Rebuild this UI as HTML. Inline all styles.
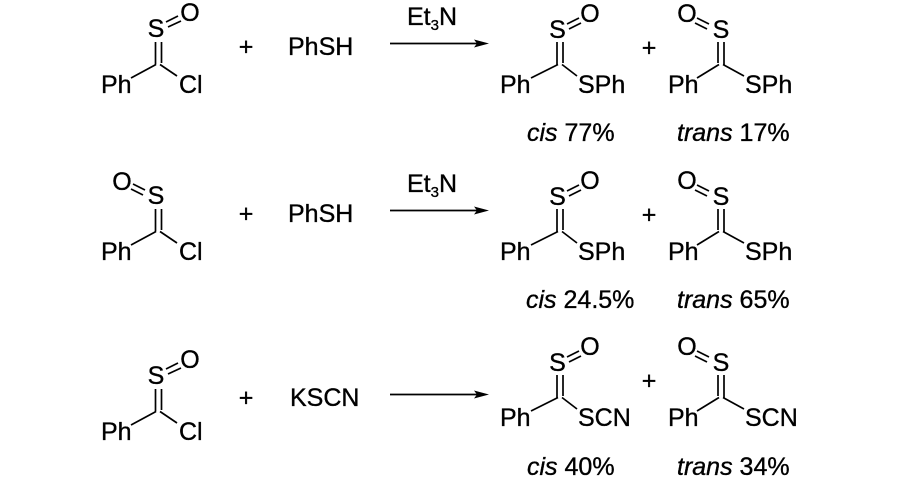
<!DOCTYPE html>
<html>
<head>
<meta charset="utf-8">
<style>
  html,body{margin:0;padding:0;background:#fff;}
  svg{display:block;}
  text{font-family:"Liberation Sans", Arial, sans-serif;font-size:25px;fill:#000;stroke:#000;stroke-width:0.35px;}
  .it{font-style:italic;}
  line{stroke:#000;stroke-width:1.7;stroke-linecap:butt;}
</style>
</head>
<body>
<svg width="900" height="480" viewBox="0 0 900 480" xmlns="http://www.w3.org/2000/svg">

  <!-- ================= ROW 1 ================= -->
  <g>
    <line x1="155.5" y1="42" x2="155.5" y2="64.5"/>
    <line x1="161.5" y1="42" x2="161.5" y2="63"/>
    <line x1="156" y1="64.5" x2="131" y2="78"/>
    <line x1="160" y1="64.5" x2="177" y2="76"/>
    <line x1="166" y1="22" x2="178" y2="16"/>
    <line x1="168" y1="27" x2="181" y2="21"/>
    <text x="156" y="37" text-anchor="middle">S</text>
    <text x="190" y="21" text-anchor="middle">O</text>
    <text x="101" y="93">Ph</text>
    <text x="179" y="93">Cl</text>
  </g>

  <text x="246" y="55" text-anchor="middle">+</text>
  <text x="288" y="55">PhSH</text>
  <text x="407" y="25">Et<tspan font-size="15" dy="5">3</tspan><tspan dy="-5">N</tspan></text>
  <line x1="390" y1="43.5" x2="478" y2="43.5"/>
  <polygon points="489,43.5 474,39.5 477,43.5 474,47.5" fill="#000"/>

  <g>
    <line x1="557" y1="42" x2="557" y2="64.5"/>
    <line x1="563" y1="42" x2="563" y2="63"/>
    <line x1="558" y1="64.5" x2="531" y2="78"/>
    <line x1="562" y1="64.5" x2="577" y2="76"/>
    <line x1="567" y1="24" x2="579" y2="18"/>
    <line x1="569" y1="29" x2="581" y2="23"/>
    <text x="557.5" y="38" text-anchor="middle">S</text>
    <text x="590" y="22" text-anchor="middle">O</text>
    <text x="500" y="93">Ph</text>
    <text x="578" y="93">SPh</text>

    <text x="649" y="56" text-anchor="middle">+</text>

    <line x1="718" y1="42" x2="718" y2="63"/>
    <line x1="724" y1="42" x2="724" y2="64.5"/>
    <line x1="719" y1="64.5" x2="697" y2="78"/>
    <line x1="723" y1="64.5" x2="744" y2="76"/>
    <line x1="697" y1="18" x2="709" y2="24"/>
    <line x1="695" y1="23" x2="707" y2="29"/>
    <text x="721" y="38" text-anchor="middle">S</text>
    <text x="687" y="22" text-anchor="middle">O</text>
    <text x="668" y="93">Ph</text>
    <text x="745" y="93">SPh</text>
  </g>
  <text x="527" y="141"><tspan class="it">cis</tspan> 77%</text>
  <text x="677" y="141"><tspan class="it">trans</tspan> 17%</text>

  <!-- ================= ROW 2 ================= -->
  <g transform="translate(0,167)">
    <line x1="155.5" y1="42" x2="155.5" y2="64.5"/>
    <line x1="161.5" y1="42" x2="161.5" y2="63"/>
    <line x1="156" y1="64.5" x2="131" y2="78"/>
    <line x1="160" y1="64.5" x2="177" y2="76"/>
    <line x1="133" y1="17" x2="145" y2="23"/>
    <line x1="131" y1="22" x2="143" y2="28"/>
    <text x="156" y="37" text-anchor="middle">S</text>
    <text x="122" y="23" text-anchor="middle">O</text>
    <text x="101" y="93">Ph</text>
    <text x="179" y="93">Cl</text>

    <text x="246" y="55" text-anchor="middle">+</text>
    <text x="288" y="55">PhSH</text>
    <text x="407" y="25">Et<tspan font-size="15" dy="5">3</tspan><tspan dy="-5">N</tspan></text>
    <line x1="390" y1="43.5" x2="478" y2="43.5"/>
    <polygon points="489,43.5 474,39.5 477,43.5 474,47.5" fill="#000"/>

    <line x1="557" y1="42" x2="557" y2="64.5"/>
    <line x1="563" y1="42" x2="563" y2="63"/>
    <line x1="558" y1="64.5" x2="531" y2="78"/>
    <line x1="562" y1="64.5" x2="577" y2="76"/>
    <line x1="567" y1="24" x2="579" y2="18"/>
    <line x1="569" y1="29" x2="581" y2="23"/>
    <text x="557.5" y="38" text-anchor="middle">S</text>
    <text x="590" y="22" text-anchor="middle">O</text>
    <text x="500" y="93">Ph</text>
    <text x="578" y="93">SPh</text>

    <text x="649" y="56" text-anchor="middle">+</text>

    <line x1="718" y1="42" x2="718" y2="63"/>
    <line x1="724" y1="42" x2="724" y2="64.5"/>
    <line x1="719" y1="64.5" x2="697" y2="78"/>
    <line x1="723" y1="64.5" x2="744" y2="76"/>
    <line x1="697" y1="18" x2="709" y2="24"/>
    <line x1="695" y1="23" x2="707" y2="29"/>
    <text x="721" y="38" text-anchor="middle">S</text>
    <text x="687" y="22" text-anchor="middle">O</text>
    <text x="668" y="93">Ph</text>
    <text x="745" y="93">SPh</text>

    <text x="526" y="141"><tspan class="it">cis</tspan> 24.5%</text>
    <text x="677" y="141"><tspan class="it">trans</tspan> 65%</text>
  </g>

  <!-- ================= ROW 3 ================= -->
  <g transform="translate(0,347)">
    <line x1="155.5" y1="42" x2="155.5" y2="64.5"/>
    <line x1="161.5" y1="42" x2="161.5" y2="63"/>
    <line x1="156" y1="64.5" x2="131" y2="78"/>
    <line x1="160" y1="64.5" x2="177" y2="76"/>
    <line x1="166" y1="22" x2="178" y2="16"/>
    <line x1="168" y1="27" x2="181" y2="21"/>
    <text x="156" y="37" text-anchor="middle">S</text>
    <text x="190" y="21" text-anchor="middle">O</text>
    <text x="101" y="93">Ph</text>
    <text x="179" y="93">Cl</text>
  </g>

  <text x="246" y="406" text-anchor="middle">+</text>
  <text x="290" y="406">KSCN</text>
  <line x1="390" y1="394.5" x2="478" y2="394.5"/>
  <polygon points="489,394.5 474,390.5 477,394.5 474,398.5" fill="#000"/>

  <g transform="translate(0,333)">
    <line x1="557" y1="42" x2="557" y2="64.5"/>
    <line x1="563" y1="42" x2="563" y2="63"/>
    <line x1="558" y1="64.5" x2="531" y2="78"/>
    <line x1="562" y1="64.5" x2="577" y2="76"/>
    <line x1="567" y1="24" x2="579" y2="18"/>
    <line x1="569" y1="29" x2="581" y2="23"/>
    <text x="557.5" y="38" text-anchor="middle">S</text>
    <text x="590" y="22" text-anchor="middle">O</text>
    <text x="500" y="93">Ph</text>
    <text x="578" y="93">SCN</text>

    <text x="649" y="56" text-anchor="middle">+</text>

    <line x1="718" y1="42" x2="718" y2="63"/>
    <line x1="724" y1="42" x2="724" y2="64.5"/>
    <line x1="719" y1="64.5" x2="697" y2="78"/>
    <line x1="723" y1="64.5" x2="744" y2="76"/>
    <line x1="697" y1="18" x2="709" y2="24"/>
    <line x1="695" y1="23" x2="707" y2="29"/>
    <text x="721" y="38" text-anchor="middle">S</text>
    <text x="687" y="22" text-anchor="middle">O</text>
    <text x="668" y="93">Ph</text>
    <text x="745" y="93">SCN</text>

    <text x="527" y="142"><tspan class="it">cis</tspan> 40%</text>
    <text x="677" y="142"><tspan class="it">trans</tspan> 34%</text>
  </g>

</svg>
</body>
</html>
